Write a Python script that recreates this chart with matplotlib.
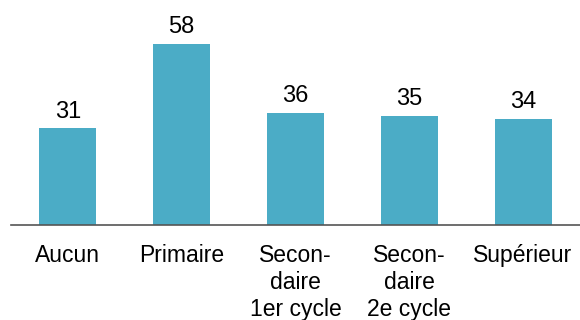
import matplotlib.pyplot as plt

categories = ['Aucun', 'Primaire', 'Secon-\ndaire\n1er cycle', 'Secon-\ndaire\n2e cycle', 'Supérieur']
values = [31, 58, 36, 35, 34]

plt.rcParams['font.family'] = ['Liberation Sans', 'DejaVu Sans']

fig = plt.figure(figsize=(5.8, 3.2), dpi=100)
ax = fig.add_axes([11 / 580, 95 / 320, 569 / 580, 225 / 320])

x = range(len(values))
bars = ax.bar(x, values, width=0.5, color='#4BACC6')

# valeurs au-dessus des barres
for b, v in zip(bars, values):
    ax.annotate(str(v), (b.get_x() + b.get_width() / 2, v), xytext=(0, 4),
                textcoords='offset points', ha='center', va='bottom', fontsize=17)

ax.set_xlim(-0.5, len(values) - 0.5)
ax.set_ylim(0, 72.1)
ax.set_xticks(list(x))
ax.set_xticklabels(categories, fontsize=16.5, linespacing=1.2, va='top')
ax.tick_params(axis='x', length=0, pad=14)
ax.set_yticks([])
for s in ['top', 'right', 'left']:
    ax.spines[s].set_visible(False)
ax.spines['bottom'].set_color('#555555')
ax.spines['bottom'].set_linewidth(1.2)

fig.savefig('out.png', dpi=100)
